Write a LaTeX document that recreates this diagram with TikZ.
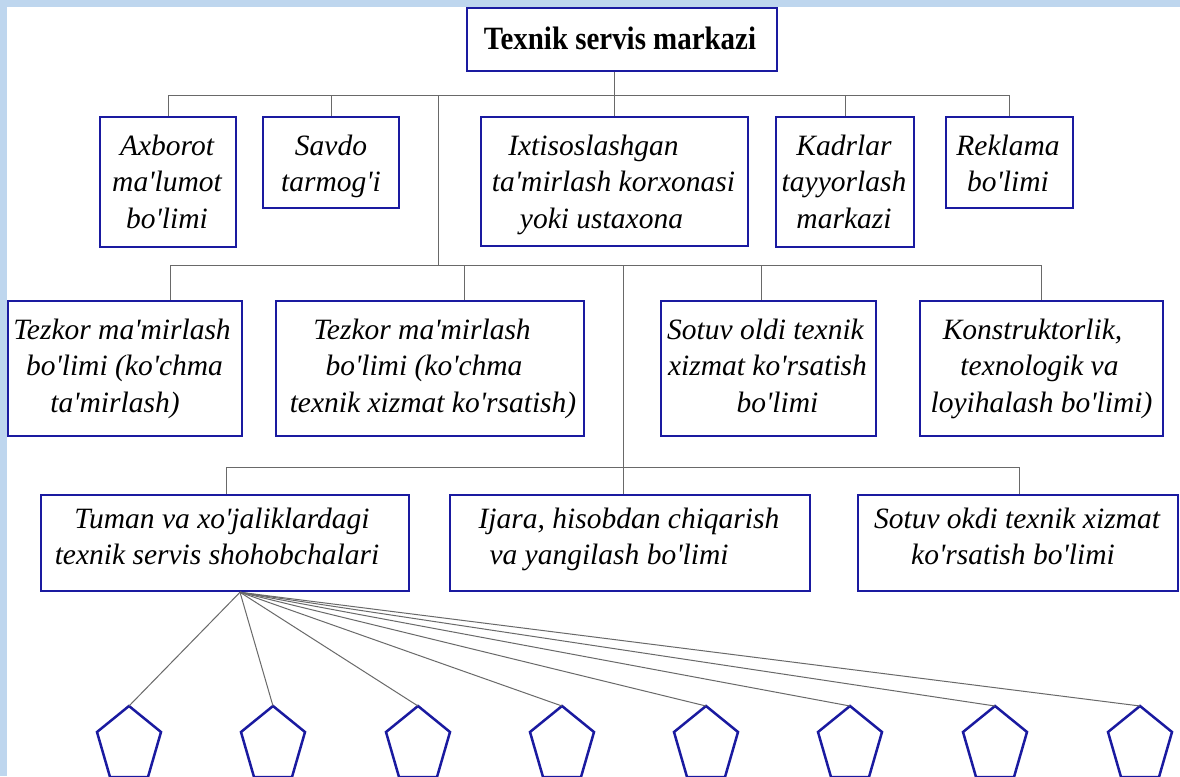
\documentclass[tikz,border=0pt]{standalone}
\usepackage{fontspec}
\setmainfont{Liberation Serif}[Ligatures=TeXOff]
\newfontfamily\tfont{Liberation Serif}[Ligatures=TeXOff,FakeStretch=0.89]
\newcommand{\mv}[2]{\hspace*{#1}#2\hspace*{-#1}}
\newcommand{\fs}{\rule{0pt}{22pt}}
\usetikzlibrary{calc}
\definecolor{bluebox}{RGB}{26,26,160}
\definecolor{frameblue}{RGB}{190,214,238}
\definecolor{conncol}{RGB}{105,105,105}
\begin{document}
\begin{tikzpicture}[x=1pt,y=-1pt,
  box/.style={draw=bluebox, line width=2.5pt, inner sep=0pt, fill=white},
  lbl/.style={font=\fontsize{29.5}{36.5}\selectfont\itshape, align=center, inner sep=0pt, anchor=north},
  conn/.style={draw=conncol, line width=1pt},
  pent/.style={draw=bluebox, line width=2.5pt, line join=miter}]
\useasboundingbox (0,0) rectangle (1180,776);
\fill[frameblue] (0,0) rectangle (1180,776);
\fill[white] (7,7) rectangle (1180,776);

% boxes
\node[box, minimum width=310pt, minimum height=63pt] (top) at (622,39.5) {};
\node[box, minimum width=136pt, minimum height=130pt] (ax) at (168,182) {};
\node[box, minimum width=136pt, minimum height=91pt] (sa) at (331,162.5) {};
\node[box, minimum width=267pt, minimum height=129pt] (ix) at (614.5,181.5) {};
\node[box, minimum width=138pt, minimum height=130pt] (ka) at (845,182) {};
\node[box, minimum width=127pt, minimum height=91pt] (re) at (1009.5,162.5) {};
\node[box, minimum width=234pt, minimum height=135pt] (t1) at (125,368.5) {};
\node[box, minimum width=308pt, minimum height=135pt] (t2) at (430,368.5) {};
\node[box, minimum width=215pt, minimum height=135pt] (so) at (768.5,368.5) {};
\node[box, minimum width=243pt, minimum height=135pt] (ko) at (1041.5,368.5) {};
\node[box, minimum width=368pt, minimum height=96pt] (tu) at (225,543) {};
\node[box, minimum width=360pt, minimum height=96pt] (ij) at (630,543) {};
\node[box, minimum width=320pt, minimum height=96pt] (sk) at (1018,543) {};

% texts
\node[font=\fontsize{32.5}{36}\selectfont\tfont\bfseries, inner sep=0pt, anchor=base] (topt) at (620,50) {Texnik servis markazi};
\node[lbl] (axt) at (167,133) {\fs Axborot\\ma'lumot\\bo'limi};
\node[lbl] (sat) at (331,133) {\fs Savdo\\tarmog'i};
\node[lbl] (ixt) at (614.5,133) {\mv{-21pt}{\fs Ixtisoslashgan}\\\mv{-2pt}{ta'mirlash korxonasi}\\\mv{-13pt}{yoki ustaxona}};
\node[lbl] (kat) at (844,133) {\fs Kadrlar\\tayyorlash\\markazi};
\node[lbl] (ret) at (1008,133) {\fs Reklama\\bo'limi};
\node[lbl] (t1t) at (125,317) {\mv{-3pt}{\fs Tezkor ma'mirlash}\\\mv{-1pt}{bo'limi (ko'chma}\\\mv{-10pt}{ta'mirlash)}};
\node[lbl] (t2t) at (430,317) {\mv{-8pt}{\fs Tezkor ma'mirlash}\\\mv{-12pt}{bo'limi (ko'chma}\\\mv{3pt}{texnik xizmat ko'rsatish)}};
\node[lbl] (sot) at (768.5,317) {\mv{-3pt}{\fs Sotuv oldi texnik}\\\mv{-2pt}{xizmat ko'rsatish}\\\mv{9pt}{bo'limi}};
\node[lbl] (kot) at (1041.5,317) {\mv{-9pt}{\fs Konstruktorlik,}\\\mv{-4pt}{texnologik va}\\loyihalash bo'limi)};
\node[lbl] (tut) at (225,506) {\mv{-3pt}{\fs Tuman va xo'jaliklardagi}\\\mv{-8pt}{texnik servis shohobchalari}};
\node[lbl] (ijt) at (630,506) {\mv{-1pt}{\fs Ijara, hisobdan chiqarish}\\\mv{-21pt}{va yangilash bo'limi}};
\node[lbl] (skt) at (1018,506) {\mv{-1pt}{\fs Sotuv okdi texnik xizmat}\\\mv{-5pt}{ko'rsatish bo'limi}};

% connectors
\coordinate (bus1) at (0,95);
\coordinate (tr1) at (438,95);
\coordinate (c1) at (170,265);
\coordinate (c2) at (464,265);
\coordinate (c3) at (761,265);
\coordinate (c4) at (1041,265);
\coordinate (tr2) at (623,265);
\coordinate (d1) at (226,467);
\coordinate (d3) at (1019,467);
\draw[conn] (ax.north) -- (ax.north |- bus1) -- (re.north |- bus1) -- (re.north);
\draw[conn] (sa.north) -- (sa.north |- bus1);
\draw[conn] (ka.north) -- (ka.north |- bus1);
\draw[conn] (ix.north |- top.south) -- (ix.north);
\draw[conn] (tr1) -- (tr1 |- c1);
\draw[conn] (c1 |- t1.north) -- (c1) -- (c4) -- (c4 |- ko.north);
\draw[conn] (c2) -- (c2 |- t2.north);
\draw[conn] (c3) -- (c3 |- so.north);
\draw[conn] (tr2) -- (tr2 |- ij.north);
\draw[conn] (d1 |- tu.north) -- (d1) -- (d3) -- (d3 |- sk.north);

% fan to pentagons
\coordinate (fan) at ([xshift=15pt]tu.south);
\foreach \x [count=\i] in {129,273,418,562,706,850,995,1140} {
  \coordinate (p\i) at (\x,706);
  \draw[pent] (p\i) -- ++(-32,26) -- ++(13,45) -- ++(38,0) -- ++(13,-45) -- cycle;
  \draw[conn] (fan) -- (p\i);
}
\end{tikzpicture}
\end{document}
